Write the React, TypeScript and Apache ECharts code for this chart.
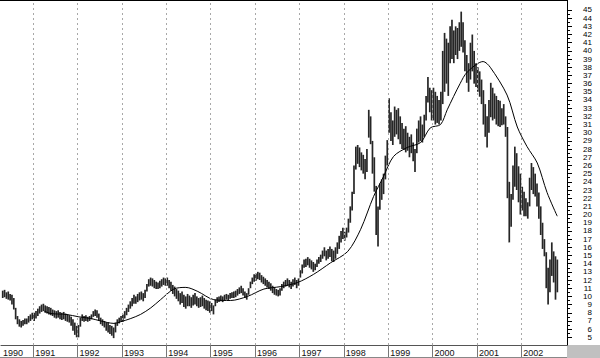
import React, { useEffect, useRef } from "react";
import * as echarts from "echarts";

// Half-month OHLC-style ranges (high / low), one row per year.
const YEARS = [1990, 1991, 1992, 1993, 1994, 1995, 1996, 1997, 1998, 1999, 2000, 2001, 2002];
const FIRST_HALF_MONTH = [7, 0, 0, 0, 0, 0, 0, 0, 0, 0, 0, 0, 0];

const HIGHS: number[][] = [
  [10.7, 10.8, 10.5, 10.6, 10.3, 10.2, 9.8, 8.6, 7.6, 7.2, 7.0, 7.1, 7.3, 7.3, 7.6, 7.8, 8.0],
  [8.0, 8.2, 8.5, 8.8, 9.0, 9.1, 8.9, 8.8, 8.7, 8.6, 8.4, 8.3, 8.2, 8.3, 8.1, 8.0, 8.1, 7.9, 7.8, 7.7, 7.5, 7.2, 6.8, 6.4],
  [6.5, 7.4, 7.8, 7.6, 7.7, 7.5, 7.6, 7.8, 8.2, 8.4, 8.3, 7.9, 7.4, 7.2, 7.0, 6.8, 6.8, 6.5, 6.4, 6.2, 6.8, 7.2, 7.4, 7.6],
  [7.8, 8.2, 8.6, 9.0, 9.4, 9.8, 10.2, 10.0, 10.3, 10.5, 10.6, 10.4, 10.8, 11.5, 12.1, 12.3, 12.2, 12.0, 11.8, 11.7, 11.9, 12.1, 12.3, 12.2],
  [12.3, 12.0, 11.8, 11.4, 11.2, 10.9, 10.7, 10.4, 10.6, 10.2, 10.0, 10.3, 10.1, 9.9, 10.2, 10.4, 10.0, 9.8, 9.9, 10.1, 9.8, 9.6, 9.5, 9.4],
  [9.2, 8.9, 9.6, 9.9, 10.0, 10.1, 10.0, 10.2, 10.3, 10.2, 10.4, 10.5, 10.6, 10.7, 10.9, 11.1, 11.3, 11.0, 10.6, 10.4, 11.0, 11.8, 12.3, 12.7],
  [12.8, 13.0, 12.9, 12.6, 12.4, 12.2, 12.0, 11.8, 11.6, 11.3, 11.1, 10.9, 10.8, 11.0, 11.5, 11.8, 12.0, 12.2, 12.0, 11.8, 12.1, 12.3, 12.0, 12.2],
  [13.2, 13.9, 14.5, 14.6, 14.8, 14.6, 14.4, 14.2, 14.0, 14.5, 14.8, 15.1, 15.6, 16.0, 15.6, 15.8, 16.1, 15.8, 15.6, 16.0, 16.6, 17.4, 18.0, 18.4],
  [17.9, 18.4, 19.5, 21.0, 22.8, 26.0, 28.3, 28.5, 28.2, 27.6, 27.3, 26.8, 28.0, 32.8, 32.0, 29.0, 27.0, 23.5, 21.0, 23.8, 24.3, 25.0, 27.2, 29.1],
  [34.2, 32.5, 31.5, 33.2, 32.8, 33.0, 32.0, 31.2, 30.5, 30.8, 30.0, 29.5, 29.8, 28.8, 28.0, 30.5, 31.5, 32.0, 31.0, 32.2, 34.5, 36.8, 35.5, 35.2],
  [35.5, 35.0, 34.5, 34.0, 35.0, 40.0, 42.2, 41.5, 41.0, 43.0, 43.8, 42.5, 43.0, 42.8, 43.5, 44.8, 43.5, 41.3, 39.5, 38.5, 41.0, 42.0, 40.0, 38.5],
  [38.0, 37.5, 36.5, 35.2, 33.5, 32.0, 34.0, 36.1, 35.5, 34.8, 34.5, 34.0, 33.9, 33.0, 33.5, 32.0, 30.7, 24.0, 22.5, 26.0, 28.3, 27.5, 25.9, 25.0],
  [23.4, 22.8, 22.0, 21.5, 24.5, 26.3, 25.8, 25.0, 23.8, 22.7, 21.0, 19.0, 17.0, 15.4, 13.5, 14.5, 16.6, 15.5, 14.9, 14.5],
];

const LOWS: number[][] = [
  [9.8, 9.9, 9.7, 9.6, 9.5, 9.0, 8.4, 7.2, 6.6, 6.3, 6.2, 6.4, 6.6, 6.6, 6.8, 7.0, 7.2],
  [7.0, 7.3, 7.6, 7.9, 8.1, 8.2, 8.0, 7.9, 7.8, 7.7, 7.6, 7.4, 7.3, 7.4, 7.2, 7.1, 7.2, 7.0, 6.9, 6.8, 6.4, 5.8, 5.3, 5.0],
  [5.0, 6.3, 7.0, 6.9, 7.0, 6.9, 7.0, 7.2, 7.5, 7.6, 7.4, 7.0, 6.6, 6.4, 6.2, 5.8, 5.6, 5.4, 5.2, 4.9, 5.6, 6.4, 6.7, 6.9],
  [6.9, 7.3, 7.7, 8.1, 8.5, 8.8, 9.1, 9.1, 9.3, 9.5, 9.6, 9.4, 9.8, 10.6, 11.2, 11.3, 11.2, 11.0, 10.9, 10.9, 11.0, 11.2, 11.4, 11.3],
  [11.3, 11.0, 10.7, 10.3, 10.0, 9.7, 9.4, 9.0, 9.2, 8.7, 8.5, 8.8, 8.8, 8.6, 8.9, 9.0, 8.8, 8.6, 8.7, 8.8, 8.5, 8.3, 8.2, 8.0],
  [8.2, 7.8, 8.8, 9.2, 9.3, 9.4, 9.3, 9.5, 9.6, 9.5, 9.7, 9.8, 9.8, 9.9, 10.1, 10.3, 10.4, 10.1, 9.8, 9.6, 10.2, 11.0, 11.5, 11.8],
  [11.9, 12.1, 12.0, 11.7, 11.5, 11.3, 11.1, 10.9, 10.7, 10.4, 10.2, 10.1, 10.0, 10.1, 10.7, 11.0, 11.2, 11.3, 11.1, 10.9, 11.2, 11.4, 11.0, 11.3],
  [12.3, 12.8, 13.5, 13.6, 13.8, 13.5, 13.3, 13.0, 13.2, 13.6, 14.0, 14.2, 14.6, 14.9, 14.4, 14.6, 14.8, 14.3, 14.2, 14.6, 15.2, 15.8, 16.6, 17.0],
  [16.8, 17.2, 17.8, 19.0, 20.5, 22.5, 25.5, 26.2, 25.8, 25.4, 25.0, 24.3, 25.2, 29.4, 28.6, 25.0, 22.8, 17.5, 16.1, 20.6, 21.8, 22.5, 24.3, 26.0],
  [30.0, 29.0, 28.5, 29.5, 29.8, 29.2, 28.6, 28.0, 27.9, 27.6, 27.8, 27.0, 27.5, 26.5, 25.2, 27.5, 28.8, 29.0, 28.8, 29.5, 31.5, 33.7, 32.5, 31.5],
  [31.5, 31.0, 31.2, 31.0, 31.5, 33.5, 35.0, 36.0, 34.5, 38.5, 39.0, 38.5, 39.5, 39.0, 40.0, 40.5, 39.8, 37.5, 36.1, 35.0, 36.5, 37.5, 36.0, 35.6],
  [35.0, 34.4, 33.5, 31.0, 29.5, 28.2, 30.0, 31.9, 31.5, 31.7, 31.0, 30.8, 30.7, 30.9, 31.0, 29.5, 22.0, 16.6, 18.5, 21.8, 23.4, 23.0, 21.5, 20.0],
  [20.5, 19.8, 19.8, 19.5, 21.0, 23.0, 22.5, 22.2, 21.0, 19.5, 17.5, 15.8, 14.9, 11.0, 9.0, 10.5, 12.5, 11.7, 9.6, 10.5],
];

// Moving average: [year fraction, value]
const MA_POINTS: [number, number][] = [
  [1991.25, 8.2], [1991.4, 7.9], [1991.74, 7.8], [1992.03, 7.5], [1992.3, 7.3], [1992.52, 7.0],
  [1992.82, 6.7], [1992.97, 6.9], [1993.2, 7.3], [1993.42, 7.8], [1993.65, 8.6], [1993.87, 9.6],
  [1994.17, 10.9], [1994.44, 11.1], [1994.71, 10.6], [1995.07, 9.6], [1995.45, 9.5], [1995.83, 10.0],
  [1996.2, 10.9], [1996.58, 11.2], [1996.96, 11.7], [1997.32, 12.7], [1997.7, 14.1], [1998.09, 15.5],
  [1998.38, 18.2], [1998.67, 22.2], [1998.89, 24.6], [1999.12, 27.1], [1999.43, 28.2], [1999.73, 28.8],
  [1999.95, 30.6], [2000.18, 31.0], [2000.33, 32.8], [2000.62, 36.0], [2000.78, 37.4], [2001.14, 38.7],
  [2001.3, 38.0], [2001.68, 34.6], [2001.91, 30.7], [2002.13, 28.3], [2002.36, 26.3], [2002.58, 22.7],
  [2002.81, 19.8],
];

const YEAR_TICKS = [1991, 1992, 1993, 1994, 1995, 1996, 1997, 1998, 1999, 2000, 2001, 2002];
const Y_TICKS = [5, 6, 7, 8, 9, 10, 11, 12, 13, 14, 15, 16, 17, 18, 19, 20, 21, 22, 23, 24, 25,
  26, 27, 28, 29, 30, 31, 32, 33, 34, 35, 36, 37, 38, 39, 40, 41, 42, 43, 44, 45];

const X_MIN = 1990.273;
const X_MAX = 2003.03;
const Y_MIN = 4.06;
const Y_MAX = 46.22;

const FONT = "'Liberation Sans', Arial, sans-serif";

export default function App() {
  const ref = useRef<HTMLDivElement>(null);

  useEffect(() => {
    if (!ref.current) return;
    const chart = echarts.init(ref.current, undefined, { renderer: "svg" });

    const bars: number[][] = [];
    YEARS.forEach((yr, yi) => {
      HIGHS[yi].forEach((h, j) => {
        const t = yr + (FIRST_HALF_MONTH[yi] + j + 0.5) / 24;
        bars.push([t, LOWS[yi][j], h]);
      });
    });
    const yHalf = Y_TICKS.slice(0, -1).map((v) => v + 0.5);

    const option: any = {
      animation: false,
      backgroundColor: "#ffffff",
      grid: { left: 0, right: 33, top: 0, bottom: 13, containLabel: false },
      xAxis: {
        type: "value",
        min: X_MIN,
        max: X_MAX,
        axisLine: { show: true, onZero: false, lineStyle: { color: "#555", width: 1 } },
        axisTick: { show: true, customValues: YEAR_TICKS, length: 12, lineStyle: { color: "#777", width: 1 } },
        axisLabel: {
          customValues: [X_MIN + 0.001, ...YEAR_TICKS],
          formatter: (v: number) => String(Math.floor(v + 0.0001)),
          align: "left",
          padding: [0, 0, 0, 2],
          margin: 3,
          fontSize: 9,
          color: "#111",
          fontFamily: FONT,
        },
        splitLine: { show: false },
      },
      yAxis: [
        {
          type: "value",
          position: "right",
          min: Y_MIN,
          max: Y_MAX,
          axisLine: { show: true, lineStyle: { color: "#000", width: 1 } },
          axisTick: { show: true, customValues: Y_TICKS, length: 5, lineStyle: { color: "#000" } },
          axisLabel: {
            customValues: Y_TICKS,
            align: "right",
            margin: 25,
            fontSize: 8,
            color: "#000",
            fontFamily: FONT,
          },
          splitLine: { show: false },
        },
        {
          type: "value",
          position: "right",
          min: Y_MIN,
          max: Y_MAX,
          axisLine: { show: false },
          axisTick: { show: true, customValues: yHalf, length: 3, lineStyle: { color: "#000" } },
          axisLabel: { show: false },
          splitLine: { show: false },
        },
      ],
      series: [
        {
          type: "custom",
          coordinateSystem: "cartesian2d",
          data: bars,
          encode: { x: 0, y: [1, 2] },
          clip: true,
          z: 2,
          renderItem: (_p: any, api: any) => {
            const t = api.value(0);
            const lo = api.value(1);
            const hi = api.value(2);
            const a = api.coord([t, hi]);
            const b = api.coord([t, lo]);
            return {
              type: "line",
              shape: { x1: a[0], y1: a[1], x2: b[0], y2: b[1] },
              style: { stroke: "#262626", lineWidth: 1.7 },
            };
          },
          markLine: {
            silent: true,
            symbol: ["none", "none"],
            label: { show: false },
            lineStyle: { color: "#a8a8a8", type: [2, 3], width: 1 },
            data: YEAR_TICKS.map((y) => ({ xAxis: y })),
          },
        },
        {
          type: "line",
          data: MA_POINTS,
          showSymbol: false,
          symbol: "none",
          smooth: 0.3,
          z: 3,
          lineStyle: { color: "#000", width: 1 },
        },
      ],
      graphic: [
        { type: "line", shape: { x1: 0, y1: 0.5, x2: 567, y2: 0.5 }, style: { stroke: "#000", lineWidth: 1 } },
        { type: "line", shape: { x1: 0, y1: 357.5, x2: 567, y2: 357.5 }, style: { stroke: "#888", lineWidth: 1 } },
        { type: "rect", shape: { x: 567, y: 345, width: 33, height: 13 }, style: { fill: "#c0c0c0" } },
      ],
    };

    chart.setOption(option);
    return () => chart.dispose();
  }, []);

  return (
    <div
      ref={ref}
      style={{ position: "fixed", left: 0, top: 0, width: 600, height: 358, background: "#fff" }}
    />
  );
}
